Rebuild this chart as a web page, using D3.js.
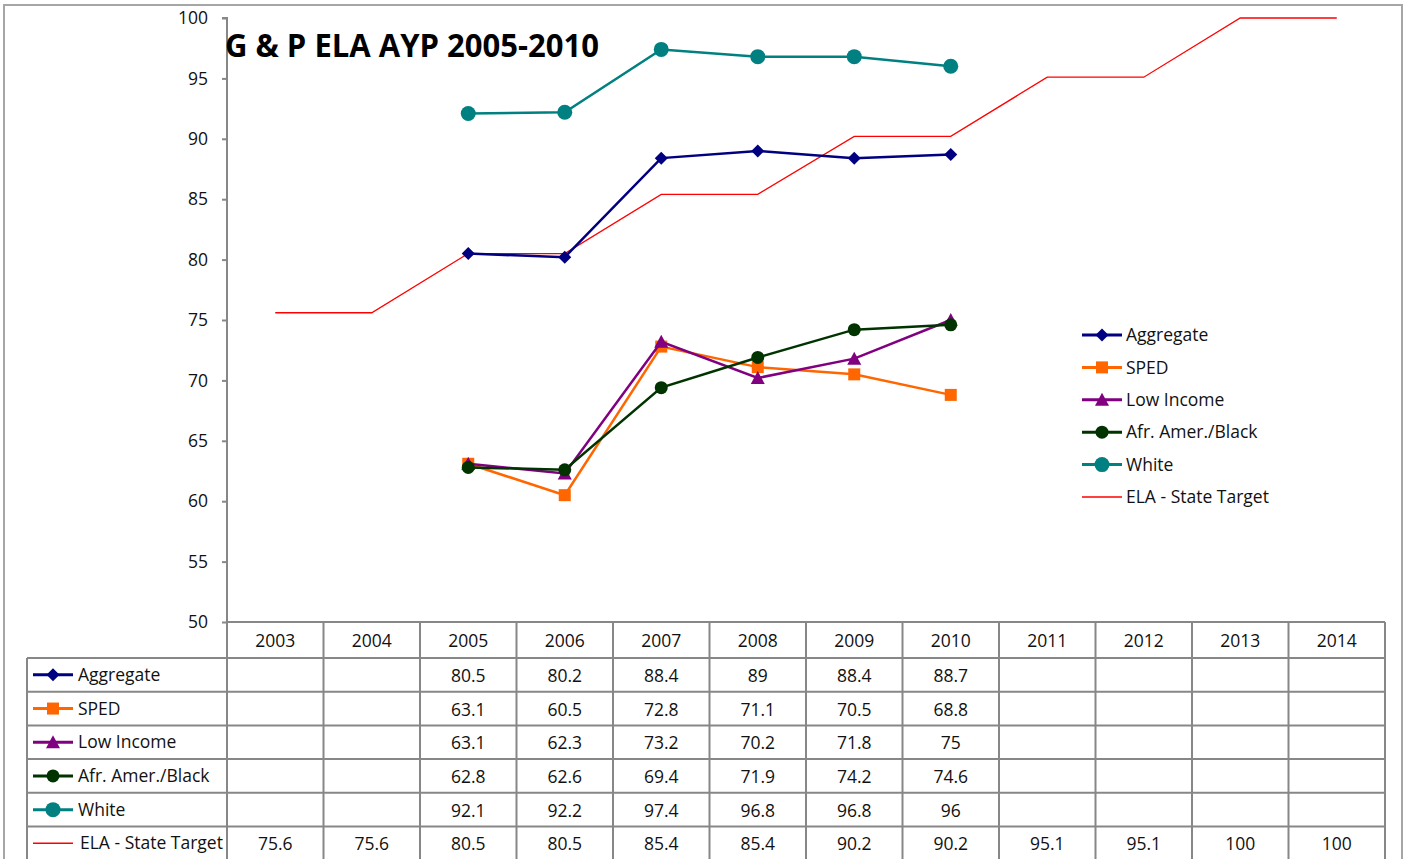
<!DOCTYPE html>
<html><head><meta charset="utf-8">
<script src="https://cdn.jsdelivr.net/npm/d3@7"></script>
<style>body{margin:0;background:#fff}svg{display:block}</style>
</head><body>
<script>
const years = ["2003","2004","2005","2006","2007","2008","2009","2010","2011","2012","2013","2014"];
const yTicks = [50,55,60,65,70,75,80,85,90,95,100];
const seriesNames = ["Aggregate","SPED","Low Income","Afr. Amer./Black","White","ELA - State Target"];
const aggregate = [null,null,80.5,80.2,88.4,89,88.4,88.7,null,null,null,null];
const sped = [null,null,63.1,60.5,72.8,71.1,70.5,68.8,null,null,null,null];
const lowIncome = [null,null,63.1,62.3,73.2,70.2,71.8,75,null,null,null,null];
const afrAmer = [null,null,62.8,62.6,69.4,71.9,74.2,74.6,null,null,null,null];
const white = [null,null,92.1,92.2,97.4,96.8,96.8,96,null,null,null,null];
const stateTarget = [75.6,75.6,80.5,80.5,85.4,85.4,90.2,90.2,95.1,95.1,100,100];
const title = "G & P ELA AYP 2005-2010";

const series = [
  {name:seriesNames[0], values:aggregate, color:"#000080", marker:"diamond"},
  {name:seriesNames[1], values:sped, color:"#FF6600", marker:"square"},
  {name:seriesNames[2], values:lowIncome, color:"#800080", marker:"triangle"},
  {name:seriesNames[3], values:afrAmer, color:"#003300", marker:"circle"},
  {name:seriesNames[4], values:white, color:"#008080", marker:"bigcircle"},
  {name:seriesNames[5], values:stateTarget, color:"#FF0000", marker:null}
];

const W=1405,H=859;
const font="'Open Sans', sans-serif";
const fs=17.5;
const svg=d3.select("body").append("svg").attr("width",W).attr("height",H);
svg.append("rect").attr("x",4).attr("y",5).attr("width",1398).attr("height",870).attr("fill","#fff").attr("stroke","#a6a6a6").attr("stroke-width",2);

const L=227,R=1385,T=18,B=622;
const x=d3.scaleBand().domain(years).range([L,R]);
const y=d3.scaleLinear().domain([50,100]).range([B,T]);
const grey="#878787";

const yAxis=d3.axisLeft(y).tickValues(yTicks).tickSize(5).tickPadding(14);
const gy=svg.append("g").attr("transform",`translate(${L},0)`).call(yAxis);
gy.selectAll("path,line").attr("stroke",grey).attr("stroke-width",2);
gy.select(".domain").attr("d",`M-5,${T}H0V${B}`);
gy.selectAll("text").attr("font-family",font).attr("font-size",fs).attr("fill","#111");

const rowH=33.7, headTop=B, headH=36;
const tg=svg.append("g");
const tableLeft=27, tableBottom=headTop+headH+rowH*6;
years.forEach((yr,i)=>{
  tg.append("text").attr("x",x(yr)+x.bandwidth()/2).attr("y",headTop+headH/2+1).attr("dy","0.35em")
    .attr("text-anchor","middle").attr("font-family",font).attr("font-size",fs).attr("fill","#111").text(yr);
});
const lineStyle=s=>s.attr("stroke",grey).attr("stroke-width",2);
years.concat(["end"]).forEach((yr,i)=>{
  const xx = i<years.length? x(yr): R;
  lineStyle(tg.append("line").attr("x1",xx).attr("x2",xx).attr("y1",headTop).attr("y2",tableBottom));
});
lineStyle(tg.append("line").attr("x1",tableLeft).attr("x2",tableLeft).attr("y1",headTop+headH).attr("y2",tableBottom));
lineStyle(tg.append("line").attr("x1",L).attr("x2",R).attr("y1",headTop).attr("y2",headTop));
for(let r=0;r<=6;r++){
  const yy=headTop+headH+r*rowH;
  lineStyle(tg.append("line").attr("x1",tableLeft).attr("x2",R).attr("y1",yy).attr("y2",yy));
}

function marker(g,type,cx,cy,color){
  if(!type) return;
  if(type==="diamond") g.append("path").attr("d",`M${cx},${cy-6.5}L${cx+6.5},${cy}L${cx},${cy+6.5}L${cx-6.5},${cy}Z`).attr("fill",color);
  else if(type==="square") g.append("rect").attr("x",cx-6).attr("y",cy-6).attr("width",12).attr("height",12).attr("fill",color);
  else if(type==="triangle") g.append("path").attr("d",`M${cx},${cy-7}L${cx+7},${cy+6}L${cx-7},${cy+6}Z`).attr("fill",color);
  else if(type==="circle") g.append("circle").attr("cx",cx).attr("cy",cy).attr("r",6.5).attr("fill",color);
  else if(type==="bigcircle") g.append("circle").attr("cx",cx).attr("cy",cy).attr("r",7.5).attr("fill",color);
}

series.forEach((s,r)=>{
  const cy=headTop+headH+r*rowH+rowH/2;
  const g=svg.append("g");
  g.append("line").attr("x1",33).attr("x2",73).attr("y1",cy).attr("y2",cy).attr("stroke",s.color).attr("stroke-width",s.marker?3:1.5);
  marker(g,s.marker,53,cy,s.color);
  g.append("text").attr("x",s.marker?78:80).attr("y",cy).attr("dy","0.35em").attr("font-family",font).attr("font-size",fs).attr("fill","#111").text(s.name);
  s.values.forEach((v,i)=>{
    if(v==null) return;
    g.append("text").attr("x",x(years[i])+x.bandwidth()/2).attr("y",cy+1).attr("dy","0.35em").attr("text-anchor","middle")
      .attr("font-family",font).attr("font-size",fs).attr("fill","#111").text(v);
  });
});

const line=d3.line().defined(d=>d.v!=null).x(d=>x(d.yr)+x.bandwidth()/2).y(d=>y(d.v));
const order=[5,1,2,3,0,4];
order.forEach(k=>{
  const s=series[k];
  const pts=s.values.map((v,i)=>({yr:years[i],v}));
  svg.append("path").datum(pts).attr("d",line).attr("fill","none").attr("stroke",s.color).attr("stroke-width",s.marker?2.5:1.3);
  const g=svg.append("g");
  pts.forEach(p=>{ if(p.v!=null) marker(g,s.marker,x(p.yr)+x.bandwidth()/2,y(p.v),s.color); });
});

const lg=svg.append("g");
series.forEach((s,i)=>{
  const cy=335+i*32.4;
  lg.append("line").attr("x1",1082).attr("x2",1122).attr("y1",cy).attr("y2",cy).attr("stroke",s.color).attr("stroke-width",s.marker?3:1.5);
  marker(lg,s.marker,1102,cy,s.color);
  lg.append("text").attr("x",1126).attr("y",cy).attr("dy","0.35em").attr("font-family",font).attr("font-size",fs).attr("fill","#111").text(s.name);
});

svg.append("text").attr("x",225).attr("y",57).attr("font-family",font).attr("font-weight","bold").attr("font-size",32)
  .attr("textLength",374).attr("lengthAdjust","spacingAndGlyphs").attr("fill","#000").text(title);
</script>
</body></html>
